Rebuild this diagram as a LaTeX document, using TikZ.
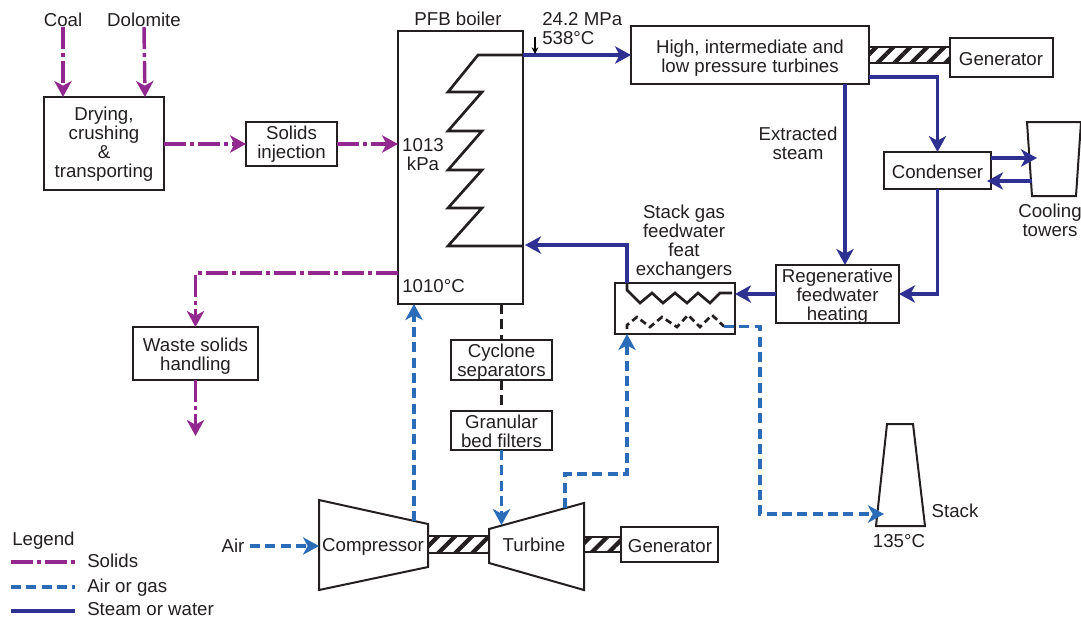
\documentclass[tikz,border=0pt]{standalone}
\usepackage{fontspec}
\setmainfont{Liberation Sans}
\usepackage{xcolor}
\usetikzlibrary{arrows.meta}
\usetikzlibrary{patterns.meta}
\definecolor{solidscol}{HTML}{92278F}
\definecolor{aircol}{HTML}{2B6CB8}
\definecolor{steamcol}{HTML}{2E3192}
\definecolor{inkcol}{HTML}{231F20}
\def\px{.75pt}
\tikzset{
  flowtip/.style = {-{Stealth[length=12pt, width=13pt, inset=3.5pt]}},
  caption/.style = {text = inkcol, inner sep = 0pt, align = center},
  box/.style = {draw = inkcol, line width = 1.5pt, fill = white, inner sep = 0pt, outer sep = 0pt, align = center, text = inkcol},
  outline/.style = {draw = inkcol, line width = 1.5pt},
  shaft/.style = {draw = inkcol, line width = 1.5pt, pattern = {Lines[angle = 45, distance = 9pt, line width = 3.2pt]}, pattern color = inkcol},
  coil/.style = {draw = inkcol, line width = 2pt},
  solids/.style = {draw = solidscol, line width = 2.6pt, dash pattern = on 16.5pt off 3pt on 3pt off 3pt},
  airgas/.style = {draw = aircol, line width = 2.6pt, dash pattern = on 7.5pt off 4pt},
  steam/.style = {draw = steamcol, line width = 2.6pt},
  flue/.style = {draw = inkcol, line width = 2.6pt, dash pattern = on 7.5pt off 4pt}
}
\begin{document}
\begin{tikzpicture}[x = .75pt, y = -.75pt, font = \fontsize{14}{14.25}\selectfont]
\useasboundingbox (0, 0) rectangle (1081, 618);

% solids side
\node [caption] (coal) at (63, 20) {Coal};
\node [caption] (dolomite) at (144, 20) {Dolomite};
\node [box, minimum width = 120*\px, minimum height = 93*\px] (drying) at (104, 143.5) {};
\node [caption] (dryingtext) at (104, 144) {Drying,\\crushing\\\&\\transporting};
\node [box, minimum width = 91*\px, minimum height = 44*\px] (injection) at (291.5, 144) {};
\node [caption] (injectiontext) at (291.5, 144.5) {Solids\\injection};
\node [box, minimum width = 125*\px, minimum height = 53*\px] (waste) at (195.5, 353.5) {};
\node [caption] (wastetext) at (195.5, 356) {Waste solids\\handling};
\coordinate (wasteend) at (195.5, 436);
\coordinate (coaltip) at (63, 97);
\coordinate (dolomitetip) at (145, 97);
\coordinate (ashout) at (398, 273);
\coordinate (ashbend) at (195.5, 273);

% boiler
\node [box, minimum width = 125*\px, minimum height = 273*\px] (boiler) at (460.5, 167.5) {};
\node [caption] (boilername) at (458, 19) {PFB boiler};
\node [caption] (boilerkpa) at (423, 155) {1013\\kPa};
\node [caption, anchor = west] (boilertemp) at (402, 286) {1010°C};
\node [caption, anchor = north west, align = left] (steamdata) at (542, 12.5) {24.2 MPa\\538°C};
\coordinate (coilout) at (523, 55);
\coordinate (coilin) at (523, 246);
\draw [coil] (coilout) -- (478, 55) -- (448, 92) -- (482, 92) -- (448, 131) -- (482, 131) -- (448, 170) -- (482, 170) -- (448, 208) -- (482, 208) -- (448, 246) -- (coilin);
\coordinate (datatop) at (535, 37);
\coordinate (datatip) at (535, 54);

% steam side
\node [box, minimum width = 238*\px, minimum height = 58*\px] (turbines) at (750, 55) {};
\node [caption] (turbinestext) at (750, 58) {High, intermediate and\\low pressure turbines};
\node [box, minimum width = 103*\px, minimum height = 39*\px] (genA) at (1001.5, 57.5) {};
\node [caption] (genAtext) at (1001, 59.5) {Generator};
\draw [shaft] (869, 47) rectangle (950, 63);
\node [box, minimum width = 107*\px, minimum height = 37*\px] (condenser) at (937.5, 170.5) {};
\node [caption] (condensertext) at (937.5, 171.5) {Condenser};
\draw [outline] (1081, 122) -- (1027, 122) -- (1032, 196) -- (1076, 196) -- (1081, 122);
\node [caption] (towername) at (1050, 220) {Cooling\\towers};
\node [box, minimum width = 123*\px, minimum height = 58*\px] (regen) at (837.5, 294) {};
\node [caption] (regentext) at (837.5, 297) {Regenerative\\feedwater\\heating};
\node [caption] (extracted) at (798, 143) {Extracted\\steam};
\coordinate (towerin) at (1037, 158);
\coordinate (towerfrom) at (991, 158);
\coordinate (towerout) at (1032, 181);
\coordinate (towerback) at (987, 181);
\coordinate (extractfrom) at (845, 84);
\coordinate (extracttip) at (845, 265);
\coordinate (exhaust) at (869, 77);
\coordinate (exhaustbend) at (937.5, 77);
\coordinate (condbend) at (937.5, 294);

% stack gas exchanger
\node [box, minimum width = 120*\px, minimum height = 51*\px] (exchanger) at (675, 308.5) {};
\node [caption] (exchangername) at (684, 242) {Stack gas\\feedwater\\feat\\exchangers};
\coordinate (exwater) at (627, 283);
\coordinate (exbend) at (627, 245);
\coordinate (boilerback) at (525, 245);
\coordinate (exgasin) at (627, 334);
\coordinate (exgasout) at (724, 326.5);
\draw [coil] (exwater) -- (627, 290) -- (640, 303) -- (652, 293) -- (663, 303) -- (675, 293) -- (687, 303) -- (698, 293) -- (710, 303) -- (720, 293) -- (732, 293);
\draw [coil, dash pattern = on 5pt off 3pt] (627, 329) -- (627, 325) -- (637, 317) -- (650, 327) -- (662, 317) -- (677, 327) -- (688, 315) -- (700, 327) -- (712, 315) -- (exgasout);

% gas path
\node [box, minimum width = 101*\px, minimum height = 40*\px] (cyclone) at (501.5, 360) {};
\node [caption] (cyclonetext) at (501.5, 362.5) {Cyclone\\separators};
\node [box, minimum width = 101*\px, minimum height = 39*\px] (granular) at (501.5, 430.5) {};
\node [caption] (granulartext) at (501.5, 431.5) {Granular\\bed filters};
\draw [outline, fill = white] (319, 500) -- (428, 524) -- (428, 567) -- (319, 590) -- cycle;
\node [caption] (compressor) at (373, 546.5) {Compressor};
\draw [outline, fill = white] (489, 529) -- (584, 503) -- (584, 590) -- (489, 563) -- cycle;
\node [caption] (turbine) at (534, 545) {Turbine};
\draw [shaft] (428, 536) rectangle (489, 553);
\draw [shaft] (584, 537) rectangle (621, 552);
\node [box, minimum width = 97*\px, minimum height = 35*\px] (genB) at (669.5, 544.5) {};
\node [caption] (genBtext) at (670, 546) {Generator};
\node [caption] (air) at (233, 546) {Air};
\draw [outline] (887, 424) -- (913, 424) -- (925, 526) -- (876, 526) -- cycle;
\node [caption] (stack) at (955, 511) {Stack};
\node [caption] (stacktemp) at (899, 541) {135°C};
\coordinate (airstart) at (250, 546);
\coordinate (airtip) at (319, 546);
\coordinate (compout) at (414, 521);
\coordinate (comptip) at (414, 304);
\coordinate (boilerdrop) at (501.5, 304);
\coordinate (turbtip) at (501.5, 525);
\coordinate (turbout) at (565, 508);
\coordinate (turbup) at (565, 474);
\coordinate (turbover) at (627, 474);
\coordinate (gasright) at (760, 326.5);
\coordinate (gasdown) at (760, 514);
\coordinate (stacktip) at (884, 514);

% solids lines
\draw [solids, flowtip] (coal.south) -- (coaltip);
\draw [solids, flowtip] (dolomite.south) -- (dolomitetip);
\draw [solids, flowtip] (drying.east |- injection.west) -- (injection.west);
\draw [solids, flowtip] (injection.east) -- (boiler.west |- injection.east);
\draw [solids, flowtip] (ashout) -- (ashbend) -- (waste.north);
\draw [solids, flowtip] (waste.south) -- (wasteend);

% air and gas lines
\draw [airgas, flowtip] (airstart) -- (airtip);
\draw [airgas, flowtip] (compout) -- (comptip);
\draw [flue] (boilerdrop) -- (cyclone.north);
\draw [flue] (cyclone.south) -- (granular.north);
\draw [airgas, flowtip] (granular.south) -- (turbtip);
\draw [airgas, flowtip] (turbout) -- (turbup) -- (turbover) -- (exgasin);
\draw [airgas, flowtip] (exgasout) -- (gasright) -- (gasdown) -- (stacktip);

% steam lines
\draw [steam, flowtip] (coilout) -- (turbines.west);
\draw [steam, flowtip] (extractfrom) -- (extracttip);
\draw [steam, flowtip] (exhaust) -- (exhaustbend) -- (condenser.north);
\draw [steam, flowtip] (towerfrom) -- (towerin);
\draw [steam, flowtip] (towerout) -- (towerback);
\draw [steam, flowtip] (condenser.south) -- (condbend) -- (regen.east);
\draw [steam, flowtip] (regen.west) -- (exchanger.east |- regen.west);
\draw [steam, flowtip] (exwater) -- (exbend) -- (boilerback);
\draw [-{Stealth[length = 5pt, width = 5pt]}, line width = 1pt, draw = black] (datatop) -- (datatip);

% legend
\node [caption, anchor = west] (legendname) at (12, 541) {Legend};
\node [caption, anchor = west] (legsolids) at (87, 561) {Solids};
\node [caption, anchor = west] (legair) at (87, 588) {Air or gas};
\node [caption, anchor = west] (legsteam) at (87, 609) {Steam or water};
\coordinate (legsolidsa) at (11, 562);
\coordinate (legsolidsb) at (75, 562);
\coordinate (legaira) at (11, 587);
\coordinate (legairb) at (75, 587);
\coordinate (legsteama) at (11, 611);
\coordinate (legsteamb) at (75, 611);
\draw [solids] (legsolidsa) -- (legsolidsb);
\draw [airgas] (legaira) -- (legairb);
\draw [steam] (legsteama) -- (legsteamb);
\end{tikzpicture}
\end{document}
